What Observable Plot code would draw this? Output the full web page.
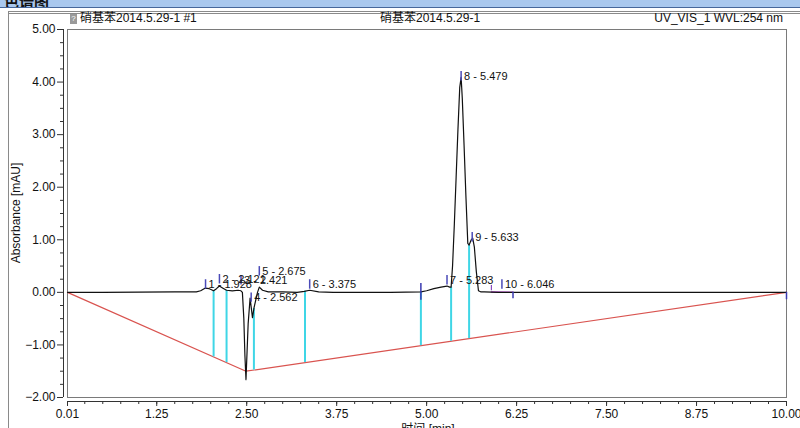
<!DOCTYPE html>
<html><head><meta charset="utf-8">
<script src="https://cdn.jsdelivr.net/npm/d3@7"></script>
<script src="https://cdn.jsdelivr.net/npm/@observablehq/plot@0.6"></script>
<style>
html,body{margin:0;padding:0;background:#fff;}
#wrap{position:relative;width:800px;height:428px;overflow:hidden;background:#fff;font-family:"Liberation Sans",Arial,"Noto Sans CJK SC",sans-serif;}
.abs{position:absolute;white-space:nowrap;}
#chart{position:absolute;left:0;top:0;}
</style></head>
<body>
<div id="wrap">
  <div class="abs" style="left:0;top:0;width:800px;height:7px;background:#a9c8ee;border-bottom:1px solid #46679a;overflow:hidden;">
    <div class="abs" style="left:4px;top:-10px;font:bold 15px 'Noto Sans CJK SC';color:#111;">色谱图</div>
  </div>
  <div class="abs" style="left:8px;top:11px;width:800px;height:430px;border-left:1px solid #8a8a8a;border-top:3px double #8a8a8a;"></div>
  <div id="chart"></div>
  <div class="abs" style="left:70px;top:14px;width:7px;height:10px;background:#9a9a9a;color:#fff;font-size:8px;line-height:10px;text-align:center;">?</div>
  <div class="abs" id="h1" style="left:80px;top:11px;font-size:12px;line-height:14px;color:#111;"></div>
  <div class="abs" id="h2" style="left:380px;top:11px;font-size:12px;line-height:14px;color:#111;"></div>
  <div class="abs" id="h3" style="right:17px;top:11px;font-size:12px;line-height:14px;color:#111;"></div>
  <div class="abs" id="ylab" style="left:16px;top:213px;font-size:12px;color:#111;transform:translate(-50%,-50%) rotate(-90deg);"></div>
  <div class="abs" id="xlab" style="left:428px;top:419px;font-size:12px;color:#111;transform:translateX(-50%);"></div>
</div>
<script>
// ---- header / titles ----
const headerLeft = "硝基苯2014.5.29-1 #1";
const headerMid = "硝基苯2014.5.29-1";
const headerRight = "UV_VIS_1 WVL:254 nm";
const yTitle = "Absorbance [mAU]";
const xTitle = "时间 [min]";

// ---- chromatogram trace (time min, absorbance mAU) ----
const times = [0.01, 0.5, 1.0, 1.5, 1.8, 1.86, 1.92, 1.98, 2.04, 2.08, 2.12, 2.17, 2.22, 2.30, 2.38, 2.42, 2.44,
  2.46, 2.475, 2.49, 2.50, 2.52, 2.547, 2.58, 2.602, 2.65, 2.675, 2.72, 2.8, 3.0, 3.2, 3.3, 3.375, 3.5, 3.7,
  4.0, 4.5, 4.92, 5.0, 5.1, 5.2, 5.283, 5.32, 5.34, 5.36, 5.385, 5.41, 5.435, 5.46, 5.479, 5.495, 5.52, 5.545,
  5.572, 5.59, 5.62, 5.64, 5.663, 5.69, 5.72, 5.75, 5.8, 6.0, 6.2, 6.5, 7.0, 7.5, 8.0, 8.5, 9.0, 9.5, 10.0];
const values = [0.00, 0.00, 0.005, 0.01, 0.01, 0.03, 0.08, 0.07, 0.03, 0.07, 0.12, 0.08, 0.04, 0.03, 0.04, 0.03, 0.0,
  -0.5, -1.2, -1.66, -1.3, -0.6, -0.11, -0.48, -0.29, 0.0, 0.1, 0.04, 0.01, 0.01, 0.0, 0.02, 0.04, 0.01, 0.0,
  0.0, 0.0, 0.01, 0.03, 0.07, 0.1, 0.12, 0.1, 0.1, 0.5, 1.3, 2.2, 3.1, 3.9, 4.09, 3.7, 2.8, 1.85,
  0.93, 0.9, 1.0, 1.03, 0.86, 0.4, 0.03, 0.01, 0.01, 0.0, 0.0, 0.0, 0.0, 0.0, 0.0, 0.0, 0.0, 0.0, 0.0];

// ---- integration baseline ----
const baseTimes = [0.01, 2.49, 10.0];
const baseValues = [0.0, -1.5, 0.0];

// ---- peak delimiters ----
const boundaryTimes = [2.04, 2.22, 2.60, 3.31, 4.92, 5.34, 5.59];

// ---- peaks ----
const peakNums = [1, 2, 3, 4, 5, 6, 7, 8, 9, 10];
const peakTimes = [1.928, 2.121, 2.421, 2.562, 2.675, 3.375, 5.283, 5.479, 5.633, 6.046];
const peakLabelValues = [0.15, 0.25, 0.23, -0.10, 0.40, 0.15, 0.23, 4.11, 1.05, 0.15];

// ---- peak-10 baseline segment ----
const p10Times = [5.9, 6.2];

// ---- axis ticks ----
const xTickLabels = [0.01, 1.25, 2.5, 3.75, 5.0, 6.25, 7.5, 8.75, 10.0];
const yTickLabels = [-2, -1, 0, 1, 2, 3, 4, 5];

document.getElementById("h1").textContent = headerLeft;
document.getElementById("h2").textContent = headerMid;
document.getElementById("h3").textContent = headerRight;
document.getElementById("ylab").textContent = yTitle;
document.getElementById("xlab").textContent = xTitle;

function interp(ts, vs, t) {
  for (let i = 0; i < ts.length - 1; i++) {
    if (t >= ts[i] && t <= ts[i + 1]) {
      const f = (t - ts[i]) / (ts[i + 1] - ts[i]);
      return vs[i] + f * (vs[i + 1] - vs[i]);
    }
  }
  return vs[vs.length - 1];
}

const trace = times.map((t, i) => ({t, v: values[i]}));
const base = baseTimes.map((t, i) => ({t, v: baseValues[i]}));
const bounds = boundaryTimes.map(t => ({t, top: interp(times, values, t), bottom: interp(baseTimes, baseValues, t)}));
const peaks = peakNums.map((n, i) => ({n, t: peakTimes[i], ly: peakLabelValues[i], label: `${n} - ${peakTimes[i].toFixed(3)}`}));
const p10 = p10Times.map(t => ({t, v: interp(times, values, t)}));

const xMinor = d3.range(0.25, 10, 0.25);
const yMinor = d3.range(-2, 5.001, 0.25).filter(v => Math.abs(v - Math.round(v)) > 1e-6);

const font = "'Liberation Sans', Arial, 'Noto Sans CJK SC', sans-serif";
const chart = Plot.plot({
  width: 800,
  height: 428,
  marginLeft: 63,
  marginRight: 14,
  marginTop: 29,
  marginBottom: 27,
  style: {background: "transparent", fontFamily: font, fontSize: "12px", color: "#111"},
  x: {domain: [0.01, 10.0], insetLeft: 4},
  y: {domain: [-2, 5], insetBottom: 4},
  marks: [
    Plot.frame({stroke: "#7a7a7a", insetLeft: 4, insetBottom: 4}),
    Plot.ruleX([0.01], {y1: -2, y2: 5, dx: -4, stroke: "#333"}),
    Plot.ruleY([-2], {x1: 0.01, x2: 10, dy: 4, stroke: "#333"}),
    Plot.axisX({ticks: xMinor, tickSize: 3, tickFormat: () => "", label: null, stroke: "#333"}),
    Plot.axisX({ticks: xTickLabels, tickSize: 5, tickPadding: 3, tickFormat: d3.format(".2f"), label: null, stroke: "#333", fill: "#111", fontSize: 12}),
    Plot.axisY({ticks: yMinor, tickSize: 3, tickFormat: () => "", label: null, stroke: "#333"}),
    Plot.axisY({ticks: yTickLabels, tickSize: 6, tickPadding: 2, tickFormat: d3.format(".2f"), label: null, stroke: "#333", fill: "#111", fontSize: 12}),
    // integration baseline
    Plot.line(base, {x: "t", y: "v", stroke: "#d9534f", strokeWidth: 1.2}),
    // peak delimiters
    Plot.ruleX(bounds, {x: "t", y1: "top", y2: "bottom", stroke: "#3fd6e6", strokeWidth: 2}),
    // peak 10 baseline
    Plot.line(p10, {x: "t", y: "v", stroke: "#b040c8", strokeWidth: 1.5}),
    // trace
    Plot.line(trace, {x: "t", y: "v", stroke: "#111", strokeWidth: 1.2}),
    // start/end markers
    Plot.ruleX([4.92], {y1: 0.17, y2: -0.15, stroke: "#3a3ab0", strokeWidth: 1.5}),
    Plot.ruleX([10.0], {y1: 0.0, y2: -0.14, stroke: "#3a3ab0", strokeWidth: 1.5}),
    Plot.ruleX([6.2], {y1: 0.0, y2: -0.12, stroke: "#3a3ab0", strokeWidth: 1.5}),
    Plot.ruleX([5.9], {y1: 0.03, y2: 0.13, stroke: "#8a4ac0", strokeWidth: 1.2}),
    // apex markers + labels
    Plot.ruleX(peaks, {x: "t", y1: d => d.ly - 0.09, y2: d => d.ly + 0.09, stroke: "#4a4ab8", strokeWidth: 1.5}),
    Plot.text(peaks, {x: "t", y: "ly", text: "label", textAnchor: "start", dx: 3, fontSize: 11, fill: "#111"})
  ]
});
document.getElementById("chart").appendChild(chart);
</script>
</body></html>
